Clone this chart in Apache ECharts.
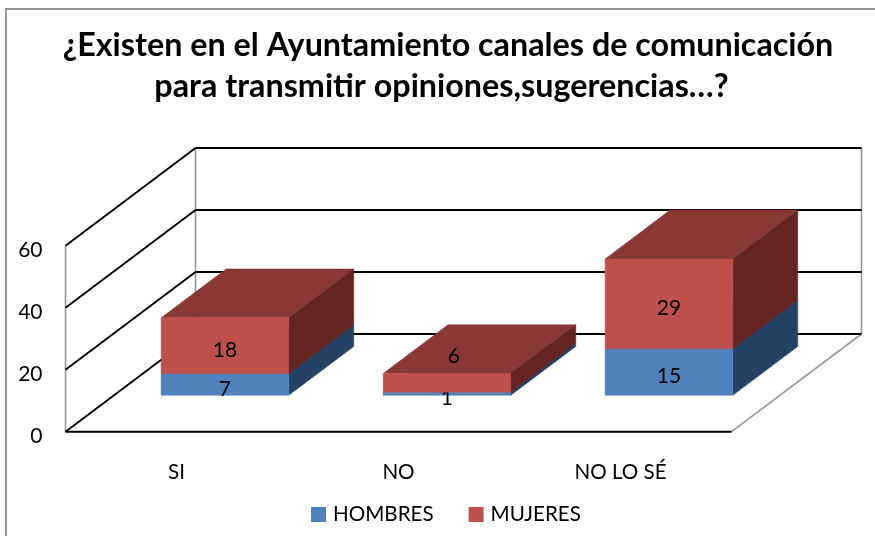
<!DOCTYPE html>
<html>
<head>
<meta charset="utf-8">
<style>html,body{margin:0;padding:0;background:#fff}#c{width:875px;height:536px}</style>
<script src="https://cdn.jsdelivr.net/npm/echarts@6/dist/echarts.min.js"></script>
</head>
<body>
<div id="c"></div>
<script>
var titleLines = ['¿Existen en el Ayuntamiento canales de comunicación', 'para transmitir opiniones,sugerencias…?'];
var categories = ['SI', 'NO', 'NO LO SÉ'];
var hombres = [7, 1, 15];
var mujeres = [18, 6, 29];
var yTicks = [0, 20, 40, 60];

var FONT = 'Lato';
var DEPTH_X = 130, DEPTH_Y = 97.7;      // oblique projection of the chart's depth
var BAR_START = 0.3726, BAR_END = 0.8726; // bar's depth span on the floor
var BAR_WIDTH = 0.575;                  // fraction of a category band

var chart = echarts.init(document.getElementById('c'), null, {renderer: 'canvas'});

function project(p, d) { return [p[0] + DEPTH_X * d, p[1] - DEPTH_Y * d]; }

function renderWalls(params, api) {
  var v = api.value(0);
  var a = api.coord([0, v]);
  var halfBand = api.size([1, 0])[0] / 2;
  var left = [a[0] - halfBand, a[1]];
  var right = [left[0] + halfBand * 2 * categories.length, a[1]];
  var backLeft = project(left, 1), backRight = project(right, 1);
  var black = {stroke: '#000', lineWidth: 1.9, fill: null};
  var gray = {stroke: '#969696', lineWidth: 1.6, fill: null};
  var kids = [];
  if (v === yTicks[0]) {
    var topV = yTicks[yTicks.length - 1];
    var h = api.coord([0, topV])[1] - a[1];
    kids.push(
      {type: 'line', shape: {x1: left[0], y1: a[1], x2: left[0], y2: a[1] + h}, style: gray},
      {type: 'line', shape: {x1: backLeft[0], y1: backLeft[1], x2: backLeft[0], y2: backLeft[1] + h}, style: gray},
      {type: 'line', shape: {x1: backRight[0], y1: backRight[1], x2: backRight[0], y2: backRight[1] + h}, style: gray},
      {type: 'line', shape: {x1: right[0], y1: right[1], x2: backRight[0], y2: backRight[1]}, style: gray},
      {type: 'line', shape: {x1: left[0], y1: left[1], x2: right[0], y2: right[1]}, style: black}
    );
  }
  kids.push(
    {type: 'line', shape: {x1: left[0], y1: left[1], x2: backLeft[0], y2: backLeft[1]}, style: black},
    {type: 'line', shape: {x1: backLeft[0], y1: backLeft[1], x2: backRight[0], y2: backRight[1]}, style: black}
  );
  return {type: 'group', children: kids};
}

function quad(pts, fill) {
  return {type: 'polygon', shape: {points: pts}, style: {fill: fill, stroke: fill, lineWidth: 0.5}};
}

function makeBarRenderer(front, top, side, labelNudge) {
  return function (params, api) {
    var cat = api.value(0), base = api.value(1), end = api.value(2);
    var band = api.size([1, 0])[0];
    var w = band * BAR_WIDTH;
    var b = api.coord([cat, base]), t = api.coord([cat, end]);
    var x0 = b[0] - w / 2, x1 = b[0] + w / 2;
    var fbl = project([x0, b[1]], BAR_START), fbr = project([x1, b[1]], BAR_START);
    var ftl = project([x0, t[1]], BAR_START), ftr = project([x1, t[1]], BAR_START);
    var bbr = project([x1, b[1]], BAR_END);
    var btl = project([x0, t[1]], BAR_END), btr = project([x1, t[1]], BAR_END);
    var n = labelNudge[params.dataIndex] || [0, 0];
    return {type: 'group', children: [
      quad([ftl, ftr, btr, btl], top),
      quad([fbr, bbr, btr, ftr], side),
      quad([fbl, fbr, ftr, ftl], front),
      {type: 'text', z2: 50, style: {
        text: String(end - base),
        x: (fbl[0] + fbr[0]) / 2 + n[0],
        y: (fbl[1] + ftl[1]) / 2 + 4.5 + n[1],
        align: 'center', verticalAlign: 'middle',
        font: '21px ' + FONT, fill: '#000'
      }}
    ]};
  };
}

var hombresData = categories.map(function (c, i) { return [i, 0, hombres[i]]; });
var mujeresData = categories.map(function (c, i) { return [i, hombres[i], hombres[i] + mujeres[i]]; });
var titleStyle = {fontFamily: FONT, fontWeight: 'bold', fontSize: 32.3, color: '#000'};

chart.setOption({
  animation: false,
  backgroundColor: '#fff',
  title: [
    {text: titleLines[0], left: 443, top: 25, padding: 5, textAlign: 'center', textStyle: titleStyle},
    {text: titleLines[1], left: 436.5, top: 66, padding: 5, textAlign: 'center', textStyle: titleStyle}
  ],
  graphic: [{
    type: 'polyline', silent: true,
    shape: {points: [[6, 540], [6, 9], [880, 9]]},
    style: {stroke: '#969696', lineWidth: 2, fill: null}
  }],
  legend: {
    data: ['HOMBRES', 'MUJERES'],
    left: 311, top: 504, padding: 0,
    icon: 'rect', itemWidth: 15, itemHeight: 15, itemGap: 35,
    textStyle: {fontFamily: FONT, fontSize: 20.6, color: '#000', padding: [0, 0, 0, 2]}
  },
  grid: {left: 65.5, right: 143.5, top: 245.7, bottom: 104.3, containLabel: false},
  xAxis: {
    type: 'category', data: categories,
    axisLine: {show: false}, axisTick: {show: false}, splitLine: {show: false},
    axisLabel: {fontFamily: FONT, fontSize: 20.6, color: '#000', margin: 30}
  },
  yAxis: {
    type: 'value', min: 0, max: 60, interval: 20,
    axisLine: {show: false}, axisTick: {show: false}, splitLine: {show: false},
    axisLabel: {fontFamily: FONT, fontSize: 21, color: '#000', margin: 23, verticalAlign: 'top', lineHeight: 9}
  },
  series: [
    {
      type: 'custom', name: 'walls', silent: true, clip: false, z: 1,
      encode: {y: 0},
      renderItem: renderWalls,
      data: yTicks.map(function (v) { return [v]; })
    },
    {
      type: 'custom', name: 'HOMBRES', clip: false, z: 2,
      itemStyle: {color: '#4F81BD'},
      encode: {x: 0, y: 2},
      renderItem: makeBarRenderer('#4F81BD', '#3A5F8C', '#254265', {}),
      data: hombresData
    },
    {
      type: 'custom', name: 'MUJERES', clip: false, z: 3,
      itemStyle: {color: '#C0504D'},
      encode: {x: 0, y: 2},
      renderItem: makeBarRenderer('#C0504D', '#8A3836', '#652523', {1: [7, -31]}),
      data: mujeresData
    }
  ]
});
</script>
</body>
</html>
